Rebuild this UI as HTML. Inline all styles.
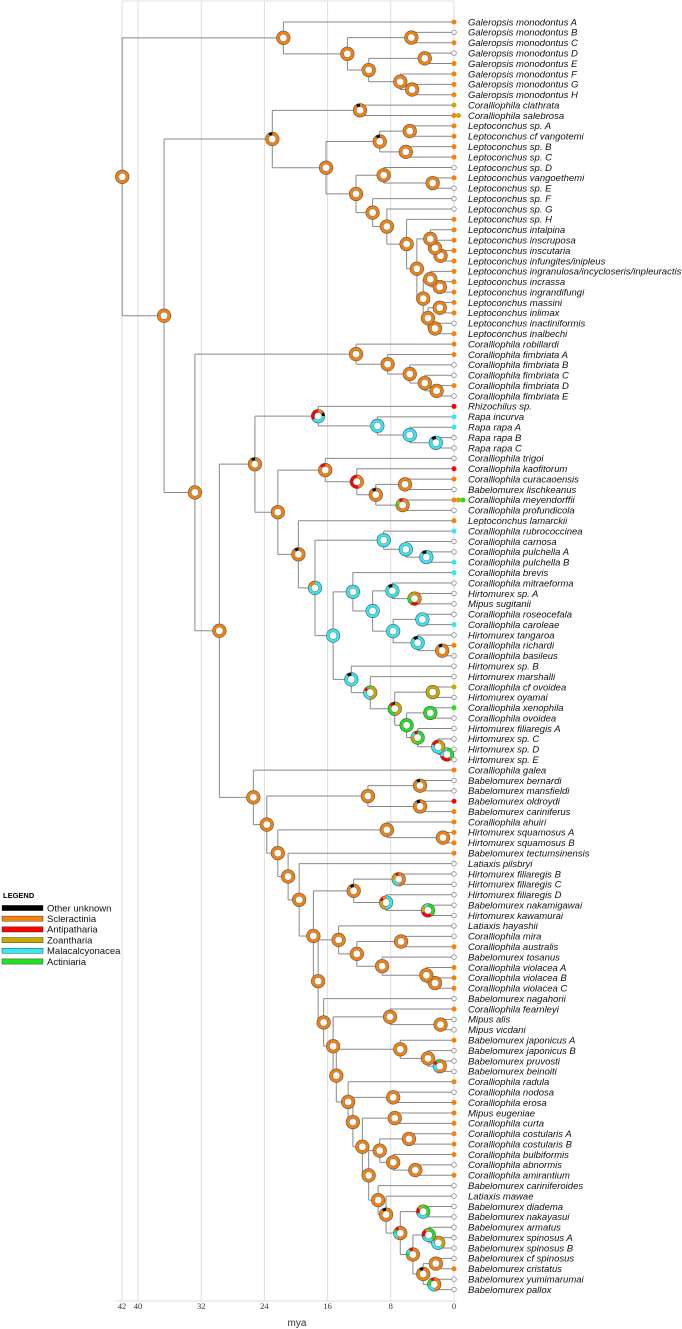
<!DOCTYPE html>
<html><head><meta charset="utf-8"><style>
html,body{margin:0;padding:0;background:#fff;}
svg{display:block;}
.lab{font-family:"Liberation Sans",sans-serif;font-style:italic;font-size:9.5px;fill:#111;}
.leg{font-family:"Liberation Sans",sans-serif;font-size:9.5px;fill:#111;}
.tick{font-family:"Liberation Serif",serif;font-size:8.5px;fill:#333;}
</style></head><body>
<svg id="chart" width="682" height="1329" viewBox="0 0 682 1329" xmlns="http://www.w3.org/2000/svg">
<g id="grid"></g>
<g id="branches"></g>
<g id="nodes"></g>
<g id="tips"></g>
<g id="axis"></g>
<g id="legend">
<text x="3" y="898" font-family="Liberation Sans, sans-serif" font-weight="bold" font-size="7.5">LEGEND</text>
</g>
</svg>
<script>
const leafNames=["Galeropsis monodontus A","Galeropsis monodontus B","Galeropsis monodontus C","Galeropsis monodontus D","Galeropsis monodontus E","Galeropsis monodontus F","Galeropsis monodontus G","Galeropsis monodontus H","Coralliophila clathrata","Coralliophila salebrosa","Leptoconchus sp. A","Leptoconchus cf vangotemi","Leptoconchus sp. B","Leptoconchus sp. C","Leptoconchus sp. D","Leptoconchus vangoethemi","Leptoconchus sp. E","Leptoconchus sp. F","Leptoconchus sp. G","Leptoconchus sp. H","Leptoconchus intalpina","Leptoconchus inscruposa","Leptoconchus inscutaria","Leptoconchus infungites/inipleus","Leptoconchus ingranulosa/incycloseris/inpleuractis","Leptoconchus incrassa","Leptoconchus ingrandifungi","Leptoconchus massini","Leptoconchus inlimax","Leptoconchus inactiniformis","Leptoconchus inalbechi","Coralliophila robillardi","Coralliophila fimbriata A","Coralliophila fimbriata B","Coralliophila fimbriata C","Coralliophila fimbriata D","Coralliophila fimbriata E","Rhizochilus sp.","Rapa incurva","Rapa rapa A","Rapa rapa B","Rapa rapa C","Coralliophila trigoi","Coralliophila kaofitorum","Coralliophila curacaoensis","Babelomurex lischkeanus","Coralliophila meyendorffii","Coralliophila profundicola","Leptoconchus lamarckii","Coralliophila rubrococcinea","Coralliophila carnosa","Coralliophila pulchella A","Coralliophila pulchella B","Coralliophila brevis","Coralliophila mitraeforma","Hirtomurex sp. A","Mipus sugitanii","Coralliophila roseocefala","Coralliophila caroleae","Hirtomurex tangaroa","Coralliophila richardi","Coralliophila basileus","Hirtomurex sp. B","Hirtomurex marshalli","Coralliophila cf ovoidea","Hirtomurex oyamai","Coralliophila xenophila","Coralliophila ovoidea","Hirtomurex filiaregis A","Hirtomurex sp. C","Hirtomurex sp. D","Hirtomurex sp. E","Coralliophila galea","Babelomurex bernardi","Babelomurex mansfieldi","Babelomurex oldroydi","Babelomurex cariniferus","Coralliophila ahuiri","Hirtomurex squamosus A","Hirtomurex squamosus B","Babelomurex tectumsinensis","Latiaxis pilsbryi","Hirtomurex filiaregis B","Hirtomurex filiaregis C","Hirtomurex filiaregis D","Babelomurex nakamigawai","Hirtomurex kawamurai","Latiaxis hayashii","Coralliophila mira","Coralliophila australis","Babelomurex tosanus","Coralliophila violacea A","Coralliophila violacea B","Coralliophila violacea C","Babelomurex nagahorii","Coralliophila fearnleyi","Mipus alis","Mipus vicdani","Babelomurex japonicus A","Babelomurex japonicus B","Babelomurex pruvosti","Babelomurex beinoiti","Coralliophila radula","Coralliophila nodosa","Coralliophila erosa","Mipus eugeniae","Coralliophila curta","Coralliophila costularis A","Coralliophila costularis B","Coralliophila bulbiformis","Coralliophila abnormis","Coralliophila amirantium","Babelomurex cariniferoides","Latiaxis mawae","Babelomurex diadema","Babelomurex nakayasui","Babelomurex armatus","Babelomurex spinosus A","Babelomurex spinosus B","Babelomurex cf spinosus","Babelomurex cristatus","Babelomurex yumimarumai","Babelomurex pallox"];
const leafStates=["o","w","o","w","o","o","o","o","y","oy","o","o","o","o","w","o","w","w","w","o","o","o","o","o","o","o","o","o","o","w","o","o","o","w","w","o","w","r","c","c","w","w","w","r","o","w","oyg","w","o","c","w","w","c","c","w","w","w","w","c","w","o","w","w","w","y","w","g","w","w","w","w","w","o","w","w","r","o","o","o","o","o","w","w","w","w","w","w","w","w","o","w","o","o","o","w","o","w","w","o","w","w","w","o","w","o","o","o","o","o","o","w","o","w","w","w","w","w","w","w","w","o","w","w"];
const tickLabels=["42","40","32","24","16","8","0"];
const tickValues=[42,40,32,24,16,8,0];
const legendLabels=["Other unknown","Scleractinia","Antipatharia","Zoantharia","Malacalcyonacea","Actiniaria"];
const legendColors=["#000000","#f5820d","#ff0000","#c9a800","#33e8f2","#22e022"];
// tree: [age(mya), stateKey, child, child]; integers are leaf numbers
const treeG=[21.6,'o',1,[13.5,'o',[5.4,'o',2,3],[10.8,'o',[3.7,'o',4,5],[6.8,'o',6,[5.3,'o',7,8]]]]];
const treeL=[23.0,'ok',[11.9,'ok',9,10],[16.2,'o',[9.4,'ok',[5.6,'o',11,12],[6.1,'o',13,14]],[12.4,'o',[8.9,'o',15,[2.7,'o',16,17]],[10.3,'o',18,[8.5,'o',19,[6.0,'o',20,[4.7,'o',[3.0,'o',21,[2.4,'o',22,[1.7,'o',23,24]]],[3.9,'o',[3.0,'o',25,[1.8,'o',26,27]],[3.3,'o',[1.8,'o',28,29],[2.4,'o',30,31]]]]]]]]]];
const treeRob=[12.4,'o',32,[8.4,'o',33,[5.6,'o',34,[3.7,'o',35,[2.2,'o',36,37]]]]];
const treeRha=[17.2,'m1',38,[9.7,'c',39,[5.6,'c',40,[2.3,'ck',41,42]]]];
const treeKao=[16.3,'or',43,[12.3,'rr',44,[9.9,'ok',[6.2,'o',45,46],[6.5,'mg',47,48]]]];
const treeCya1=[8.9,'c',50,[6.1,'c',51,[3.5,'ck',52,53]]];
const treeC2=[12.8,'c',54,[10.3,'c',[7.8,'ck',55,[5.0,'m2',56,57]],[7.7,'c',[4.0,'c',58,59],[4.6,'ck',60,[1.5,'ok',61,62]]]]];
const treeC3=[13.0,'ck',63,[10.6,'yc',64,[7.5,'yg',[2.7,'y',65,66],[6.0,'g',[3.0,'g',67,68],[4.6,'gm',69,[2.0,'m3',70,[0.9,'m4',71,72]]]]]]];
const treeBig1=[25.2,'ok',treeRha,[22.3,'o',treeKao,[19.7,'ok',49,[17.6,'co',treeCya1,[15.3,'c',treeC2,treeC3]]]]];
const treeBab=[10.9,'o',[4.3,'ok',74,75],[4.3,'ok',76,77]];
const treeSq=[8.5,'o',78,[1.4,'o',79,80]];
const treeFil=[12.7,'ok',[7.0,'m5',83,84],[8.6,'m6',85,[3.3,'m7',86,87]]];
const treeMira=[14.6,'o',88,[12.3,'o',[6.7,'o',89,90],[9.1,'o',91,[3.5,'o',92,[2.4,'o',93,94]]]]];
const treeJap=[8.1,'o',96,[1.7,'o',97,98]];
const treeJap2=[6.8,'o',99,[3.3,'o',100,[1.8,'m8',101,102]]];
const treeTail=[16.5,'o',95,[15.3,'o',treeJap,[14.9,'o',treeJap2,[13.4,'o',103,[12.8,'o',[7.7,'o',104,105],[11.6,'o',[7.5,'o',106,107],[10.8,'o',[9.4,'o',[5.7,'o',108,109],[7.7,'o',110,[4.9,'o',111,112]]],[9.6,'o',113,[8.6,'ok',114,[6.8,'m9',[3.9,'m10',115,116],[5.2,'m11',[3.2,'m12',117,[2.0,'m13',118,119]],[3.9,'ok',[2.3,'o',120,121],[2.5,'m14',122,123]]]]]]]]]]]]];
const treeLow=[25.4,'o',73,[23.7,'o',treeBab,[22.3,'o',treeSq,[21.0,'o',81,[19.6,'o',82,[17.8,'o',treeFil,[17.2,'o',treeMira,treeTail]]]]]]];
const tree=[42.0,'o',treeG,[36.7,'o',treeL,[32.8,'o',treeRob,[29.7,'o',treeBig1,treeLow]]]];

const O="#f5820d",K="#000",R="#ff0000",Y="#c9a800",C="#33e8f2",G="#22e022";
const pies={o:[[O,1]],ok:[[O,.9],[K,.1]],c:[[C,1]],ck:[[C,.88],[K,.12]],co:[[C,.8],[O,.2]],y:[[Y,1]],g:[[G,1]],
m1:[[O,.15],[K,.1],[C,.4],[R,.35]],or:[[O,.85],[R,.15]],rr:[[O,.45],[R,.55]],mg:[[O,.7],[G,.1],[Y,.1],[R,.1]],
m2:[[O,.4],[R,.2],[G,.2],[Y,.2]],yc:[[Y,.5],[C,.3],[R,.1],[G,.1]],yg:[[Y,.5],[G,.35],[R,.1],[K,.05]],
gm:[[G,.6],[Y,.2],[C,.1],[R,.1]],m3:[[Y,.4],[C,.4],[R,.2]],m4:[[G,.4],[R,.3],[C,.3]],m5:[[O,.5],[C,.2],[Y,.2],[R,.1]],
m6:[[C,.5],[Y,.3],[R,.1],[O,.1]],m7:[[G,.4],[R,.3],[Y,.2],[C,.1]],m8:[[O,.6],[C,.2],[R,.1],[G,.1]],
m9:[[O,.6],[C,.15],[G,.1],[R,.1],[Y,.05]],m10:[[G,.4],[C,.3],[R,.15],[Y,.15]],m11:[[O,.7],[G,.1],[C,.1],[R,.1]],
m12:[[G,.4],[C,.3],[R,.2],[Y,.1]],m13:[[Y,.4],[C,.4],[O,.2]],m14:[[O,.5],[C,.2],[G,.2],[R,.1]]};
const stateColor={o:O,r:R,c:C,y:Y,g:G};

const NS="http://www.w3.org/2000/svg";
const xAge=a=>454-7.9*a;
const yLeaf=i=>22+(i-1)*10.39;
function mk(tag,attrs,parent){const e=document.createElementNS(NS,tag);for(const k in attrs)e.setAttribute(k,attrs[k]);parent.appendChild(e);return e;}

const gGrid=document.getElementById('grid'),gBr=document.getElementById('branches'),gNodes=document.getElementById('nodes'),gTips=document.getElementById('tips'),gAxis=document.getElementById('axis'),gLeg=document.getElementById('legend');

tickValues.forEach((v,i)=>{
  const x=v===42?122:xAge(v);
  const l=mk('line',{x1:x,x2:x,y1:1,y2:1301,stroke:'#dedede','stroke-width':1},gGrid);
  
  
  const t=mk('text',{x:x,y:1309,'text-anchor':'middle',class:'tick'},gAxis);
  t.textContent=tickLabels[i];
  
  
});
mk('line',{x1:122,x2:454,y1:1,y2:1,stroke:'#e4e4e4','stroke-width':1},gGrid);
mk('line',{x1:116,x2:457,y1:1301,y2:1301,stroke:'#dcdcdc','stroke-width':1},gAxis);
const mt=mk('text',{x:297,y:1326,'text-anchor':'middle','font-family':'Liberation Sans, sans-serif','font-size':'10',fill:'#333'},gAxis);
mt.textContent='mya';



const nodeList=[];
function layout(n){
  if(typeof n==='number') return {x:454,y:yLeaf(n)};
  const a=layout(n[2]),b=layout(n[3]);
  const x=xAge(n[0]),y=(a.y+b.y)/2;
  mk('line',{x1:x,x2:x,y1:a.y,y2:b.y,stroke:'#888','stroke-width':1},gBr);
  mk('line',{x1:x,x2:a.x,y1:a.y,y2:a.y,stroke:'#888','stroke-width':1},gBr);
  mk('line',{x1:x,x2:b.x,y1:b.y,y2:b.y,stroke:'#888','stroke-width':1},gBr);
  nodeList.push({x,y,k:n[1]});
  return {x,y};
}
layout(tree);
mk('line',{x1:117,x2:122,y1:177,y2:177,stroke:'#888','stroke-width':1},gBr);

function wedge(cx,cy,r,a0,a1){
  const p=a=>[cx+r*Math.sin(a),cy-r*Math.cos(a)];
  const [x0,y0]=p(a0),[x1,y1]=p(a1);
  return `M${cx},${cy}L${x0},${y0}A${r},${r} 0 ${a1-a0>Math.PI?1:0} 1 ${x1},${y1}Z`;
}
nodeList.forEach(nd=>{
  const g=mk('g',{},gNodes);
  
  
  const parts=pies[nd.k]||pies.o;let a=0;
  if(parts.length===1){mk('circle',{cx:nd.x,cy:nd.y,r:6.8,fill:parts[0][0]},g);}
  else parts.forEach(([col,f])=>{const a1=a+f*2*Math.PI;mk('path',{d:wedge(nd.x,nd.y,6.8,a,a1),fill:col},g);a=a1;});
  mk('circle',{cx:nd.x,cy:nd.y,r:6.8,fill:'none',stroke:'#555','stroke-width':0.6},g);
  mk('circle',{cx:nd.x,cy:nd.y,r:3.7,fill:'#fff',stroke:'#666','stroke-width':0.5},g);
});

leafNames.forEach((name,i)=>{
  const y=yLeaf(i+1);const st=leafStates[i];
  if(st==='w'){
    const c=mk('circle',{cx:454,cy:y,r:2.3,fill:'#fff',stroke:'#888','stroke-width':0.8},gTips);
    
    
  } else {
    [...st].forEach((s,j)=>{
      const c=mk('circle',{cx:454+j*4.5,cy:y,r:2.5,fill:stateColor[s]},gTips);
      
      
    });
  }
  const t=mk('text',{x:468,y:y+3.3,class:'lab'},gTips);
  t.textContent=name;
  
  
});

legendLabels.forEach((lab,i)=>{
  const y=908+i*10.7;
  const r=mk('rect',{x:2,y:y-2.6,width:41,height:5.2,fill:legendColors[i],stroke:'#222','stroke-width':0.4},gLeg);
  
  
  const t=mk('text',{x:47,y:y+3.3,class:'leg'},gLeg);
  t.textContent=lab;
  
  
});
</script>
</body></html>
